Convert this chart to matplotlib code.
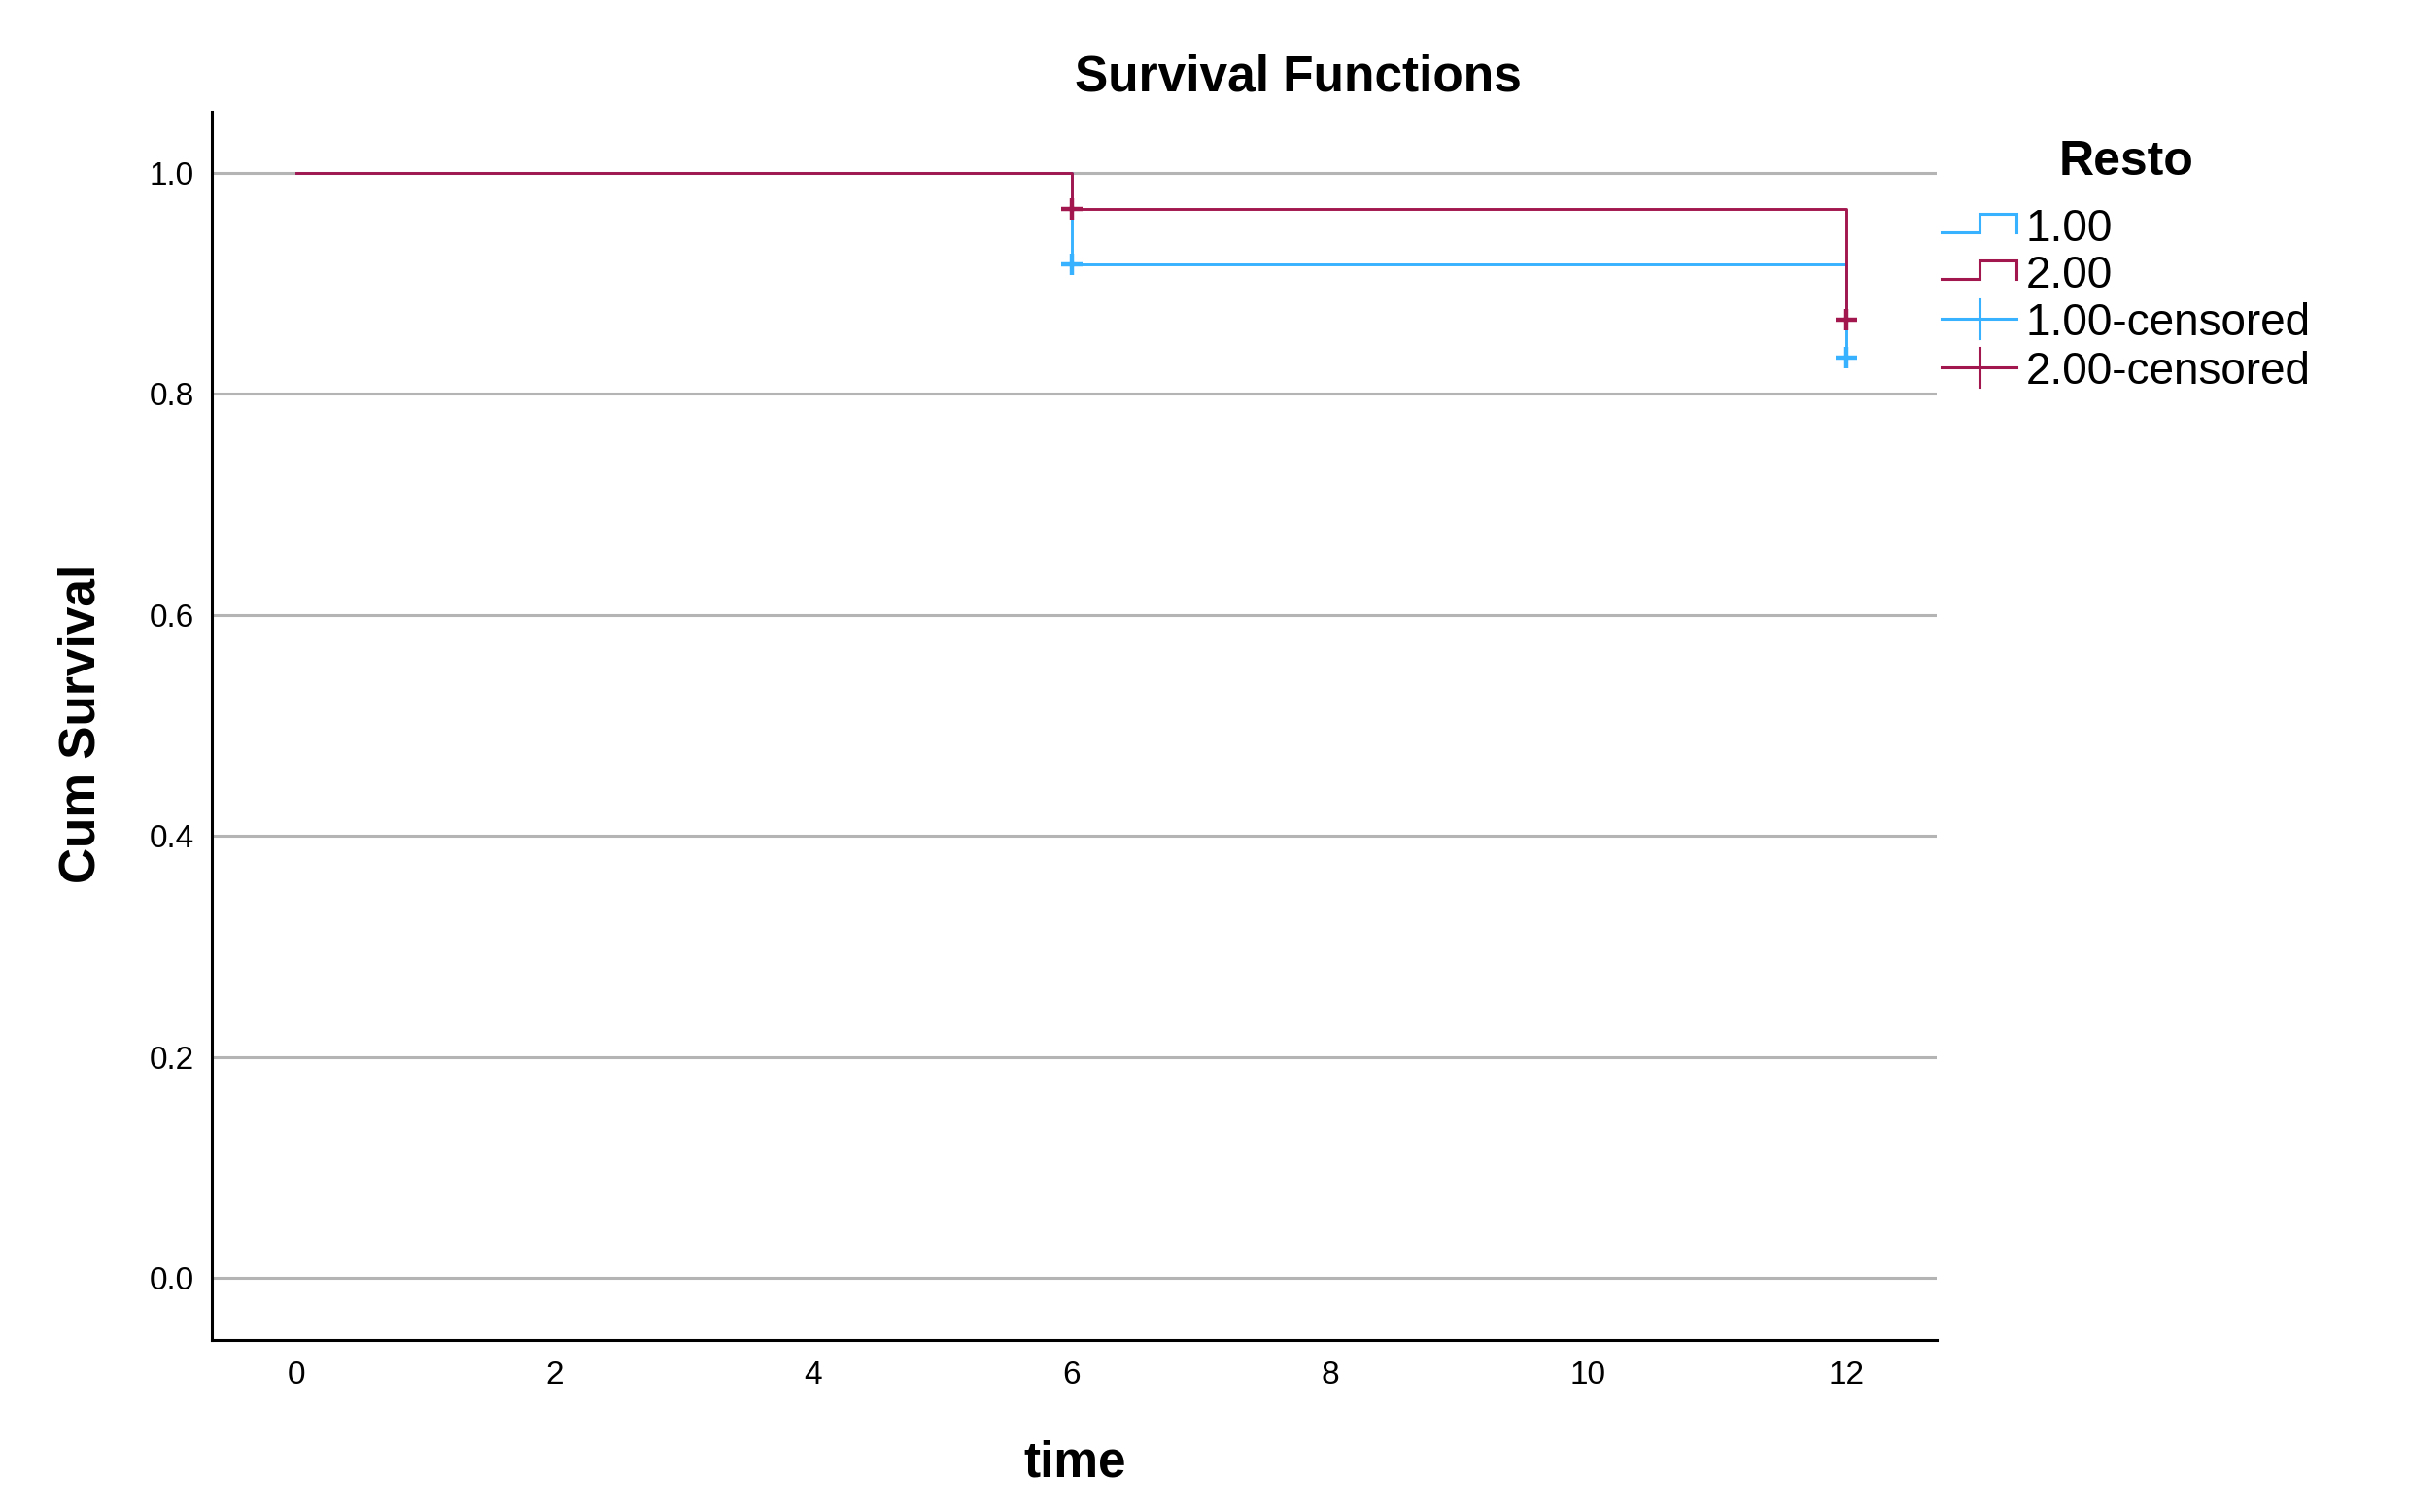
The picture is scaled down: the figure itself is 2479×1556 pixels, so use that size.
import matplotlib

matplotlib.use("Agg")
import matplotlib.pyplot as plt

# Kaplan-Meier steps per group (time, cum survival)
groups = ["1.00", "2.00"]
times_g1 = [0, 6, 12]
surv_g1 = [1.0, 0.917, 0.833]
times_g2 = [0, 6, 12]
surv_g2 = [1.0, 0.967, 0.867]
cens_t_g1 = [6, 12]
cens_s_g1 = [0.917, 0.833]
cens_t_g2 = [6, 12]
cens_s_g2 = [0.967, 0.867]

x_ticks = [0, 2, 4, 6, 8, 10, 12]
y_ticks = [0.0, 0.2, 0.4, 0.6, 0.8, 1.0]

BLUE = "#38b2ff"
RED = "#a3174f"
GRID = "#b4b4b4"

W, H, DPI = 2479, 1556, 100
plt.rcParams["font.family"] = ["Liberation Sans", "DejaVu Sans"]

fig = plt.figure(figsize=(W / DPI, H / DPI), dpi=DPI)
ax = fig.add_axes([218 / W, 1 - 1379 / H, (1993 - 218) / W, (1379 - 115) / H])

ax.set_xlim(-0.655, 12.70)
ax.set_ylim(-0.056, 1.055)
ax.set_xticks(x_ticks)
ax.set_yticks(y_ticks)
ax.set_xticklabels([str(t) for t in x_ticks])
ax.set_yticklabels([f"{v:.1f}" for v in y_ticks])
ax.tick_params(axis="both", length=0, labelsize=24)
ax.tick_params(axis="x", pad=15)
ax.tick_params(axis="y", pad=13)
for s in ("top", "right"):
    ax.spines[s].set_visible(False)
for s in ("left", "bottom"):
    ax.spines[s].set_linewidth(2.2)
    ax.spines[s].set_color("black")
ax.grid(axis="y", color=GRID, linewidth=2.2)
ax.set_axisbelow(True)

lw = 2.1
ax.step(times_g1, surv_g1, where="post", color=BLUE, lw=lw, zorder=3)
ax.step(times_g2, surv_g2, where="post", color=RED, lw=lw, zorder=4)
ax.plot(cens_t_g1, cens_s_g1, ls="none", marker="+", ms=16.5, mew=3.2, color=BLUE, zorder=5)
ax.plot(cens_t_g2, cens_s_g2, ls="none", marker="+", ms=16.5, mew=3.2, color=RED, zorder=6)

# titles
fig.text(1336 / W, 1 - 93 / H, "Survival Functions", ha="center", va="baseline",
         fontsize=37, fontweight="bold")
fig.text(1106 / W, 1 - 1520 / H, "time", ha="center", va="baseline",
         fontsize=37, fontweight="bold")
fig.text(97 / W, 1 - 745 / H, "Cum Survival", ha="center", va="baseline",
         rotation=90, rotation_mode="anchor", fontsize=37, fontweight="bold")

# legend drawn in pixel space, SPSS style
lg = fig.add_axes([0, 0, 1, 1])
lg.set_xlim(0, W)
lg.set_ylim(H, 0)
lg.axis("off")
lg.text(2188, 180, "Resto", ha="center", va="baseline", fontsize=36, fontweight="bold")
x0, xm, x1, xt = 1998, 2037, 2075, 2085
base = [248, 296, 345, 395]
colors = [BLUE, RED, BLUE, RED]
labels = groups + [g + "-censored" for g in groups]
for i, (b, c, lab) in enumerate(zip(base, colors, labels)):
    if i < 2:
        lo, hi = b - 9, b - 28
        lg.plot([x0, xm, xm, x1, x1], [lo, lo, hi, hi, lo], color=c, lw=2.2,
                solid_joinstyle="miter")
    else:
        yc = b - 17
        lg.plot([x0, x1], [yc, yc], color=c, lw=2.2)
        lg.plot([xm, xm], [yc - 20, yc + 20], color=c, lw=2.2)
    lg.text(xt, b, lab, ha="left", va="baseline", fontsize=33)

fig.savefig("out.png", dpi=DPI)
